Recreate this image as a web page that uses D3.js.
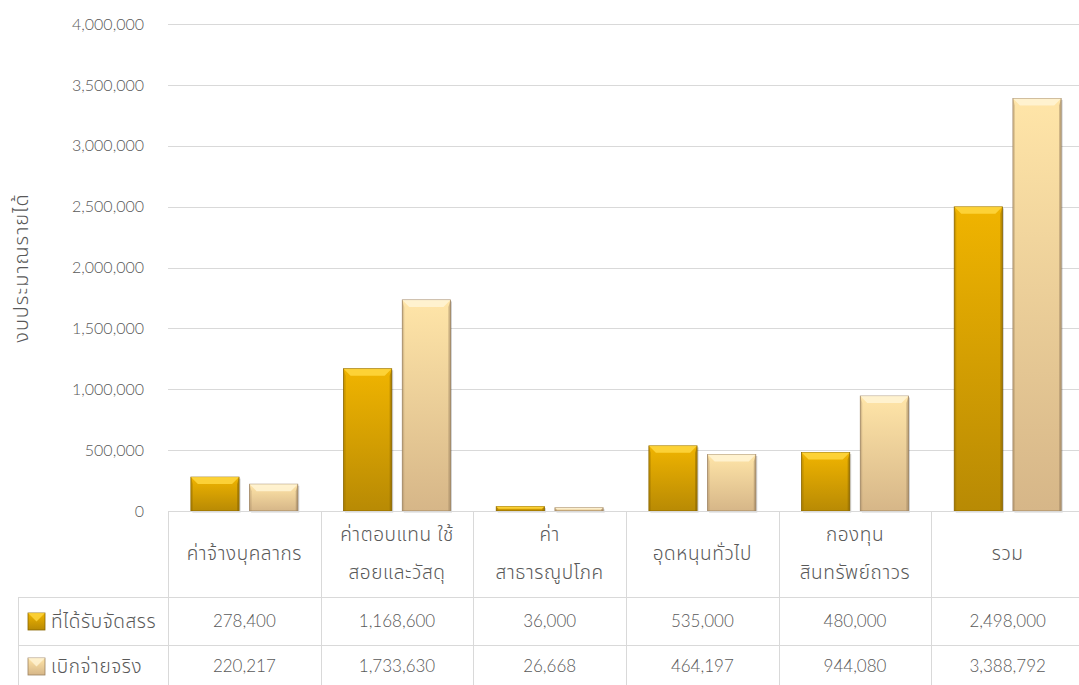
<!DOCTYPE html>
<html>
<head>
<meta charset="utf-8">
<script src="https://cdn.jsdelivr.net/npm/d3@7"></script>
<style>
  body { margin: 0; background: #fff; overflow: hidden; }
  svg text { font-family: "Lato", "Noto Sans Thai", "Noto Sans", sans-serif; font-weight: 300; fill: #595959; }
  svg text.thai { font-size: 19px; letter-spacing: 0.6px; }
</style>
</head>
<body>
<div class="chart"></div>
<script>
var categories = [
  ["ค่าจ้างบุคลากร"],
  ["ค่าตอบแทน ใช้", "สอยและวัสดุ"],
  ["ค่า", "สาธารณูปโภค"],
  ["อุดหนุนทั่วไป"],
  ["กองทุน", "สินทรัพย์ถาวร"],
  ["รวม"]
];
var seriesNames = ["ที่ได้รับจัดสรร", "เบิกจ่ายจริง"];
var allocated = [278400, 1168600, 36000, 535000, 480000, 2498000];
var spent = [220217, 1733630, 26668, 464197, 944080, 3388792];
var yTicks = [0, 500000, 1000000, 1500000, 2000000, 2500000, 3000000, 3500000, 4000000];
var yTitle = "งบประมาณรายได้";

var svgWidth = 1079;
var svgHeight = 685;

// the plot runs a little past the right edge of the window, as in the reference
var plotLeft = 168, plotRight = 1084, plotTop = 24, plotBottom = 511;
var headerBottom = 597, row1Bottom = 645;
var legendLeft = 18;

var svg = d3.select(".chart")
  .append("svg")
  .attr("width", svgWidth)
  .attr("height", svgHeight);

var defs = svg.append("defs");
var palette = [
  { top: "#f0b400", bottom: "#b88a04", bevel: "#ffd740", edge: "#8a6600" },
  { top: "#ffe5a8", bottom: "#d6b688", bevel: "#fff4d6", edge: "#9c8260" }
];
palette.forEach(function(p, i) {
  var g = defs.append("linearGradient")
    .attr("id", "grad" + i)
    .attr("x1", 0).attr("y1", 0).attr("x2", 0).attr("y2", 1);
  g.append("stop").attr("offset", "0%").attr("stop-color", p.top);
  g.append("stop").attr("offset", "100%").attr("stop-color", p.bottom);
});

var xScale = d3.scaleBand()
  .domain(d3.range(categories.length))
  .range([plotLeft, plotRight]);

var xInner = d3.scaleBand()
  .domain(d3.range(seriesNames.length))
  .range([0, xScale.bandwidth()])
  .paddingInner(0.18)
  .paddingOuter(0.39);

var yScale = d3.scaleLinear()
  .domain([0, 4000000])
  .range([plotBottom, plotTop]);

// gridlines
svg.append("g")
  .selectAll("line")
  .data(yTicks.slice(1))
  .enter()
  .append("line")
  .attr("x1", plotLeft)
  .attr("x2", plotRight)
  .attr("y1", function(d) { return Math.round(yScale(d)) + 0.5; })
  .attr("y2", function(d) { return Math.round(yScale(d)) + 0.5; })
  .attr("stroke", "#d9d9d9")
  .attr("stroke-width", 1);

// y axis labels
var yAxis = d3.axisLeft(yScale)
  .tickValues(yTicks)
  .tickFormat(d3.format(","))
  .tickSize(0)
  .tickPadding(0);

var yAxisG = svg.append("g")
  .attr("transform", "translate(144,0)")
  .call(yAxis);
yAxisG.select(".domain").remove();
yAxisG.selectAll("text")
  .style("font-size", "16px")
  .attr("fill", "#595959");

svg.append("text")
  .attr("transform", "rotate(-90)")
  .attr("x", -268)
  .attr("y", 28)
  .style("text-anchor", "middle")
  .style("font-size", "20px")
  .style("letter-spacing", "1px")
  .text(yTitle);

// bars
var data = [allocated, spent];

function drawBar(g, x, y, w, h, p) {
  if (h <= 0) return;
  var b = Math.min(7, h / 2, w / 4);
  g.append("rect")
    .attr("x", x + 1.5).attr("y", y + 1.5)
    .attr("width", w).attr("height", h)
    .attr("fill", "rgba(0,0,0,0.18)");
  g.append("rect")
    .attr("x", x).attr("y", y)
    .attr("width", w).attr("height", h)
    .attr("fill", p.grad)
    .attr("stroke", p.edge)
    .attr("stroke-width", 0.8);
  // top bevel
  g.append("polygon")
    .attr("points", [[x, y], [x + w, y], [x + w - b, y + b], [x + b, y + b]].join(" "))
    .attr("fill", p.bevel)
    .attr("opacity", 0.85);
  // side bevels
  g.append("polygon")
    .attr("points", [[x + w, y], [x + w, y + h], [x + w - 2, y + h], [x + w - 2, y + b]].join(" "))
    .attr("fill", p.edge)
    .attr("opacity", 0.5);
  g.append("polygon")
    .attr("points", [[x, y], [x + 2, y + b], [x + 2, y + h], [x, y + h]].join(" "))
    .attr("fill", p.edge)
    .attr("opacity", 0.3);
}

var barsG = svg.append("g");
data.forEach(function(values, s) {
  values.forEach(function(v, i) {
    var x = xScale(i) + xInner(s);
    var y = yScale(v);
    drawBar(barsG, x, y, xInner.bandwidth(), plotBottom - y, {
      grad: "url(#grad" + s + ")",
      bevel: palette[s].bevel,
      edge: palette[s].edge
    });
  });
});

// data table
var tableG = svg.append("g");
var lineColor = "#d9d9d9";

tableG.append("line")
  .attr("x1", plotLeft).attr("x2", plotRight)
  .attr("y1", plotBottom + 0.5).attr("y2", plotBottom + 0.5)
  .attr("stroke", lineColor);
[headerBottom, row1Bottom].forEach(function(yy) {
  tableG.append("line")
    .attr("x1", legendLeft).attr("x2", plotRight)
    .attr("y1", yy + 0.5).attr("y2", yy + 0.5)
    .attr("stroke", lineColor);
});
tableG.append("line")
  .attr("x1", legendLeft + 0.5).attr("x2", legendLeft + 0.5)
  .attr("y1", headerBottom).attr("y2", svgHeight)
  .attr("stroke", lineColor);
d3.range(categories.length).forEach(function(i) {
  var xx = Math.round(xScale(i)) + 0.5;
  tableG.append("line")
    .attr("x1", xx).attr("x2", xx)
    .attr("y1", plotBottom).attr("y2", svgHeight)
    .attr("stroke", lineColor);
});

// header labels
categories.forEach(function(lines, i) {
  var cx = xScale(i) + xScale.bandwidth() / 2;
  var cy = (plotBottom + headerBottom) / 2 - 1;
  var lh = 38;
  lines.forEach(function(line, j) {
    tableG.append("text")
      .attr("class", "thai")
      .attr("x", cx)
      .attr("y", cy + (j - (lines.length - 1) / 2) * lh)
      .attr("dy", "0.35em")
      .style("text-anchor", "middle")
      .text(line);
  });
});

// value rows
var rowCenters = [(headerBottom + row1Bottom) / 2, (row1Bottom + svgHeight) / 2 + 1];
data.forEach(function(values, s) {
  values.forEach(function(v, i) {
    tableG.append("text")
      .attr("x", xScale(i) + xScale.bandwidth() / 2)
      .attr("y", rowCenters[s])
      .attr("dy", "0.35em")
      .style("text-anchor", "middle")
      .style("font-size", "17px")
      .text(d3.format(",")(v));
  });
  // legend key
  var kx = 28, ky = rowCenters[s] - 8, ks = 17;
  tableG.append("rect")
    .attr("x", kx).attr("y", ky)
    .attr("width", ks).attr("height", ks)
    .attr("fill", "url(#grad" + s + ")")
    .attr("stroke", palette[s].edge)
    .attr("stroke-width", 0.8);
  tableG.append("polygon")
    .attr("points", [[kx, ky], [kx + ks, ky], [kx + ks / 2, ky + ks / 2]].join(" "))
    .attr("fill", palette[s].bevel)
    .attr("opacity", 0.8);
  tableG.append("text")
    .attr("class", "thai")
    .attr("x", 51)
    .attr("y", rowCenters[s])
    .attr("dy", "0.35em")
    .text(seriesNames[s]);
});
</script>
</body>
</html>
